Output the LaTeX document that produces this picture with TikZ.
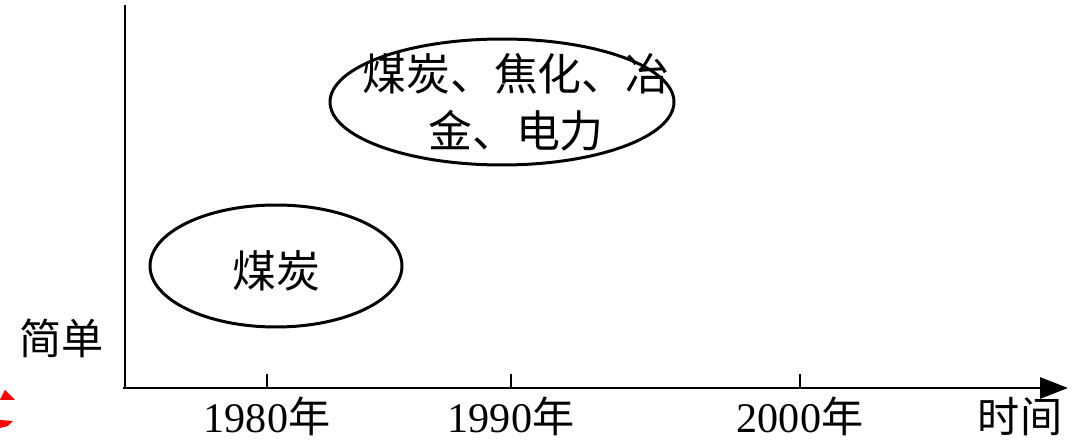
\documentclass[tikz,border=0pt]{standalone}
\usepackage{fontspec}
\setmainfont{Liberation Serif}
\newfontfamily\cjk{Noto Sans CJK SC}
\usetikzlibrary{shapes.geometric,arrows.meta}

\begin{document}
\begin{tikzpicture}[x=0.02cm,y=-0.02cm,
    every node/.style={inner sep=0pt,font=\fontsize{24}{33}\selectfont},
    stage/.style={draw=black,line width=1.7pt,ellipse},
    stagetext/.style={font=\fontsize{25}{32.5}\selectfont\cjk},
    axis/.style={draw=black,line width=1.6pt},
    tick/.style={draw=black,line width=1.4pt}]
    \useasboundingbox (0,0) rectangle (1073,445);
    \coordinate (origin) at (125,388);
    \coordinate (ytop) at (125,5);
    \coordinate (xend) at (1068,388);
    \draw [axis] (ytop) -- (origin);
    \draw [axis,-{Triangle[length=0.56cm,width=0.42cm]}] (123,388) -- (xend);
    \coordinate (t1980) at (267,388);
    \coordinate (t1990) at (511,388);
    \coordinate (t2000) at (800,388);
    \draw [tick] (t1980) -- ++(0,-14);
    \draw [tick] (t1990) -- ++(0,-14);
    \draw [tick] (t2000) -- ++(0,-14);
    \node (l1980) at (267,416) {1980{\cjk 年}};
    \node (l1990) at (511,416) {1990{\cjk 年}};
    \node (l2000) at (800,416) {2000{\cjk 年}};
    \node (time) at (1020,417) {\cjk 时间};
    \node (simple) at (62,338) {\cjk 简单};
    \node [stage,minimum width=5.04cm,minimum height=2.44cm] (coal) at (276,266) {};
    \node [stagetext] (coaltext) at (276,271) {煤炭};
    \node [stage,minimum width=6.88cm,minimum height=2.52cm] (industry) at (502,102) {};
    \node [stagetext,align=center] (industrytext) at (516,102) {煤炭、焦化、冶\\金、电力};
    \fill [red] (0,400) -- (5,390) -- (15,400) -- cycle;
    \fill [red] (0,420) -- (13,421) -- (8,426) -- (0,428) -- cycle;
\end{tikzpicture}
\end{document}
